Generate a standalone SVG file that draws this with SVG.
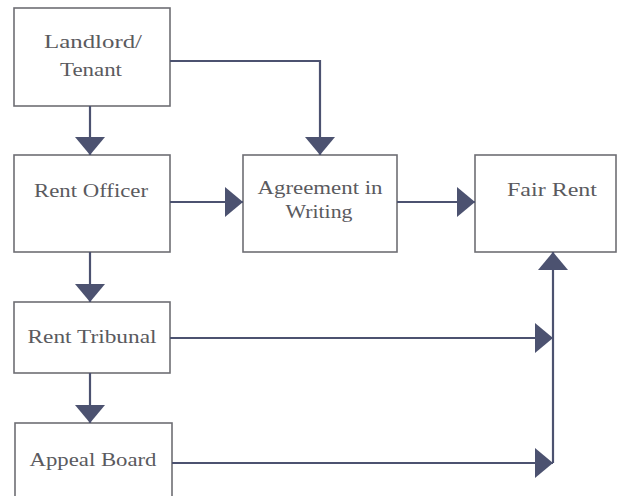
<svg xmlns="http://www.w3.org/2000/svg" width="620" height="496" viewBox="0 0 620 496">
<style>
.box{fill:#fff;stroke:#6e6e74;stroke-width:1.6}
.lbl{font-family:'Liberation Serif','Times New Roman',Times,serif;font-size:19px;fill:#5a5a5e;text-anchor:middle}
.con{fill:none;stroke:#4c5270;stroke-width:2.2}
</style>
<defs>
<marker id="ah" markerUnits="userSpaceOnUse" markerWidth="20" markerHeight="32" refX="18" refY="15" orient="auto">
<path d="M0,0 L18,15 L0,30 Z" fill="#4c5270"/>
</marker>
</defs>
<rect width="620" height="496" fill="#fff"/>
<g id="landlord">
<rect class="box" x="14" y="8" width="156" height="98"/>
<text class="lbl" font-family="Liberation Serif, serif" x="93" y="48" textLength="98" lengthAdjust="spacingAndGlyphs">Landlord/</text>
<text class="lbl" font-family="Liberation Serif, serif" x="91" y="76" textLength="62" lengthAdjust="spacingAndGlyphs">Tenant</text>
</g>
<g id="rent-officer">
<rect class="box" x="14" y="155" width="156" height="97"/>
<text class="lbl" font-family="Liberation Serif, serif" x="91" y="197" textLength="114" lengthAdjust="spacingAndGlyphs">Rent Officer</text>
</g>
<g id="agreement">
<rect class="box" x="243" y="155" width="154" height="97"/>
<text class="lbl" font-family="Liberation Serif, serif" x="320" y="194" textLength="125" lengthAdjust="spacingAndGlyphs">Agreement in</text>
<text class="lbl" font-family="Liberation Serif, serif" x="319" y="218" textLength="67" lengthAdjust="spacingAndGlyphs">Writing</text>
</g>
<g id="fair-rent">
<rect class="box" x="475" y="155" width="141" height="97"/>
<text class="lbl" font-family="Liberation Serif, serif" x="552" y="196" textLength="90" lengthAdjust="spacingAndGlyphs">Fair Rent</text>
</g>
<g id="rent-tribunal">
<rect class="box" x="14" y="302" width="156" height="71"/>
<text class="lbl" font-family="Liberation Serif, serif" x="92" y="343" textLength="129" lengthAdjust="spacingAndGlyphs">Rent Tribunal</text>
</g>
<g id="appeal-board">
<rect class="box" x="15" y="423" width="157" height="82"/>
<text class="lbl" font-family="Liberation Serif, serif" x="93" y="466" textLength="127" lengthAdjust="spacingAndGlyphs">Appeal Board</text>
</g>
<g id="connectors">
<path class="con" d="M90,106 V155" marker-end="url(#ah)"/>
<path class="con" d="M170,61 H320 V155" marker-end="url(#ah)"/>
<path class="con" d="M170,202 H243" marker-end="url(#ah)"/>
<path class="con" d="M397,202 H475" marker-end="url(#ah)"/>
<path class="con" d="M90,252 V302" marker-end="url(#ah)"/>
<path class="con" d="M90,373 V423" marker-end="url(#ah)"/>
<path class="con" d="M170,338 H553" marker-end="url(#ah)"/>
<path class="con" d="M172,463 H553" marker-end="url(#ah)"/>
<path class="con" d="M553,463 V252" marker-end="url(#ah)"/>
</g>
</svg>
